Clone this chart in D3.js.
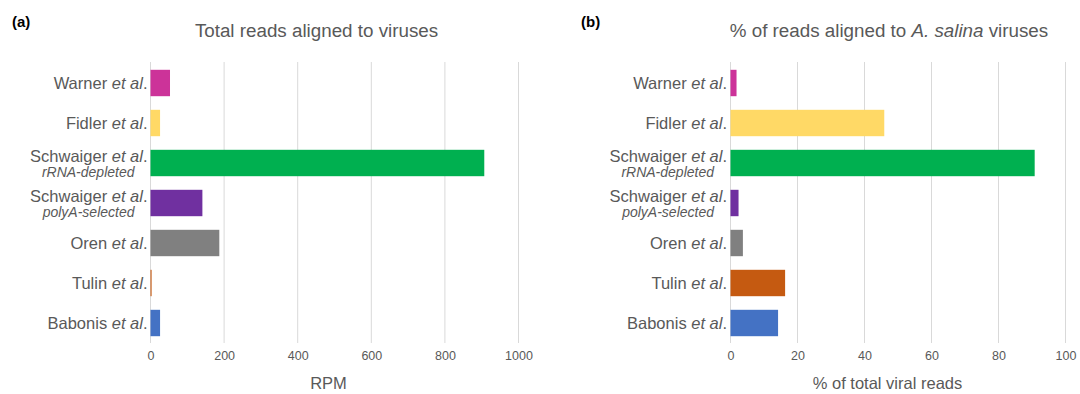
<!DOCTYPE html>
<html>
<head>
<meta charset="utf-8">
<script src="https://cdn.jsdelivr.net/npm/d3@7"></script>
<style>
  html, body { margin: 0; padding: 0; background: #fff; }
  svg { display: block; font-family: "Liberation Sans", Arial, sans-serif; }
</style>
</head>
<body>
<svg id="chart" width="1080" height="394"></svg>
<script>
// Study names (roman part), italic suffix and optional second-line note
const studies = ["Warner", "Fidler", "Schwaiger", "Schwaiger", "Oren", "Tulin", "Babonis"];
const studyNotes = ["", "", "rRNA-depleted", "polyA-selected", "", "", ""];
const barColors = ["#CC3399", "#FFD966", "#00B050", "#7030A0", "#808080", "#C55A11", "#4472C4"];

// Panel (a): reads per million aligned to viruses
const rpmValues = [53, 26, 907, 141, 187, 3, 26];
const rpmTicks = [0, 200, 400, 600, 800, 1000];

// Panel (b): share of viral reads aligned to A. salina viruses
const pctValues = [1.8, 45.9, 90.8, 2.4, 3.7, 16.3, 14.2];
const pctTicks = [0, 20, 40, 60, 80, 100];

const svg = d3.select("#chart");
const textColor = "#595959";
const gridColor = "#d9d9d9";

function drawPanel(cfg) {
  const g = svg.append("g");
  const x = d3.scaleLinear().domain(cfg.domain).range([cfg.x0, cfg.x1]);
  const idx = d3.range(studies.length);
  const y = d3.scaleBand().domain(idx).range([63, 343])
    .paddingInner(0.34).paddingOuter(0.17);

  // vertical gridlines
  g.selectAll("line.grid").data(cfg.ticks).join("line")
    .attr("class", "grid")
    .attr("x1", d => x(d)).attr("x2", d => x(d))
    .attr("y1", 62).attr("y2", 343)
    .attr("stroke", gridColor).attr("stroke-width", 1);

  // tick labels
  const axis = d3.axisBottom(x).tickValues(cfg.ticks)
    .tickFormat(d3.format("d")).tickSize(0).tickPadding(0);
  const ax = g.append("g").attr("transform", "translate(0,351.5)").call(axis);
  ax.select(".domain").remove();
  ax.selectAll("text")
    .attr("font-size", 12.5).attr("fill", textColor)
    .attr("font-family", "Liberation Sans, Arial, sans-serif")
    .attr("dy", "0.71em");

  // bars
  g.selectAll("rect.bar").data(idx).join("rect")
    .attr("class", "bar")
    .attr("x", x(0))
    .attr("y", i => y(i))
    .attr("width", i => Math.max(1, x(cfg.values[i]) - x(0)))
    .attr("height", y.bandwidth())
    .attr("fill", i => barColors[i]);

  // category labels
  idx.forEach(i => {
    const cy = y(i) + y.bandwidth() / 2;
    const hasNote = studyNotes[i] !== "";
    const t = g.append("text")
      .attr("x", cfg.labelX)
      .attr("y", hasNote ? cy - 1.5 : cy + 6)
      .attr("text-anchor", "end")
      .attr("font-size", 16.5)
      .attr("fill", textColor);
    t.append("tspan").text(studies[i] + " ");
    t.append("tspan").attr("font-style", "italic").text("et al");
    t.append("tspan").text(".");
    if (hasNote) {
      g.append("text")
        .attr("x", cfg.labelX - 13)
        .attr("y", cy + 14)
        .attr("text-anchor", "end")
        .attr("font-size", 14)
        .attr("font-style", "italic")
        .attr("fill", textColor)
        .text(studyNotes[i]);
    }
  });

  // axis title
  g.append("text")
    .attr("x", cfg.axisTitleX).attr("y", 389)
    .attr("text-anchor", "middle")
    .attr("font-size", 16.5).attr("fill", textColor)
    .text(cfg.axisTitle);

  // panel letter
  g.append("text")
    .attr("x", cfg.letterX).attr("y", 27)
    .attr("font-size", 15).attr("font-weight", "bold").attr("fill", "#000")
    .text(cfg.letter);

  return g;
}

drawPanel({
  domain: [0, 1000], ticks: rpmTicks, values: rpmValues,
  x0: 150.5, x1: 518.5, labelX: 147.5,
  axisTitle: "RPM", axisTitleX: 328.5, letter: "(a)", letterX: 12
});
svg.append("text")
  .attr("x", 316.5).attr("y", 37)
  .attr("text-anchor", "middle")
  .attr("font-size", 18.8).attr("fill", textColor)
  .text("Total reads aligned to viruses");

drawPanel({
  domain: [0, 100], ticks: pctTicks, values: pctValues,
  x0: 730.5, x1: 1065.5, labelX: 727,
  axisTitle: "% of total viral reads", axisTitleX: 887.5, letter: "(b)", letterX: 581
});
const tb = svg.append("text")
  .attr("x", 889).attr("y", 37)
  .attr("text-anchor", "middle")
  .attr("font-size", 18.8).attr("fill", textColor);
tb.append("tspan").text("% of reads aligned to ");
tb.append("tspan").attr("font-style", "italic").text("A. salina");
tb.append("tspan").text(" viruses");
</script>
</body>
</html>
